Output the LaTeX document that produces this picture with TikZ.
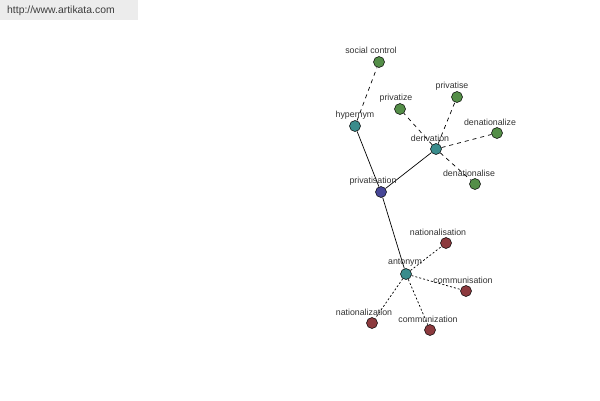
\documentclass[tikz,border=0pt]{standalone}
\usepackage{fontspec}
\setmainfont{Liberation Sans}
\definecolor{ngreen}{RGB}{84,142,72}
\definecolor{nteal}{RGB}{58,140,140}
\definecolor{nblue}{RGB}{70,70,150}
\definecolor{nred}{RGB}{140,58,62}
\definecolor{hdrbg}{RGB}{236,236,236}
\definecolor{hdrtx}{RGB}{60,60,60}
\definecolor{lbl}{RGB}{50,50,50}
\begin{document}
\begin{tikzpicture}[x=1pt,y=-1pt,
  dot/.style={circle,draw=black,line width=0.5pt,minimum size=11pt,inner sep=0pt},
  lab/.style={font=\fontsize{8.8}{10}\selectfont,text=lbl,inner sep=0pt},
  solidedge/.style={line width=0.7pt},
  dashedge/.style={line width=0.7pt,dash pattern=on 4pt off 4pt},
  dotedge/.style={line width=0.7pt,dash pattern=on 2pt off 2pt}]
\useasboundingbox (0,0) rectangle (600,400);
\fill[hdrbg] (0,0) rectangle (138,20);
\node[font=\fontsize{10.4}{12}\selectfont,text=hdrtx,anchor=west,inner sep=0pt] (url) at (7,10.5) {http://www.artikata.com};
% nodes
\node[dot,fill=ngreen] (sc) at (379,62) {};
\node[dot,fill=nteal] (hyp) at (355,126) {};
\node[dot,fill=ngreen] (pz) at (400,109) {};
\node[dot,fill=ngreen] (ps) at (457,97) {};
\node[dot,fill=nteal] (der) at (436,149) {};
\node[dot,fill=ngreen] (dz) at (497,133) {};
\node[dot,fill=ngreen] (ds) at (475,184) {};
\node[dot,fill=nblue] (pv) at (381,192) {};
\node[dot,fill=nred] (nls) at (446,243) {};
\node[dot,fill=nteal] (ant) at (406,274) {};
\node[dot,fill=nred] (cms) at (466,291) {};
\node[dot,fill=nred] (nlz) at (372,323) {};
\node[dot,fill=nred] (cmz) at (430,330) {};
% edges
\draw[solidedge] (hyp) -- (pv);
\draw[solidedge] (pv) -- (der);
\draw[solidedge] (pv) -- (ant);
\draw[dashedge] (hyp) -- (sc);
\draw[dashedge] (der) -- (pz);
\draw[dashedge] (der) -- (ps);
\draw[dashedge] (der) -- (dz);
\draw[dashedge] (der) -- (ds);
\draw[dotedge] (ant) -- (nls);
\draw[dotedge] (ant) -- (cms);
\draw[dotedge] (ant) -- (nlz);
\draw[dotedge] (ant) -- (cmz);
% labels
\node[lab] (lsc) at (371,50) {social control};
\node[lab] (lhyp) at (355,115) {hypernym};
\node[lab] (lpz) at (396,98) {privatize};
\node[lab] (lps) at (452,86) {privatise};
\node[lab] (lder) at (430,138) {derivation};
\node[lab] (ldz) at (490,122) {denationalize};
\node[lab] (lds) at (469,173) {denationalise};
\node[lab] (lpv) at (373,181) {privatisation};
\node[lab] (lnls) at (438,232) {nationalisation};
\node[lab] (lant) at (405,263) {antonym};
\node[lab] (lcms) at (463,280) {communisation};
\node[lab] (lnlz) at (364,312) {nationalization};
\node[lab] (lcmz) at (428,319) {communization};
\end{tikzpicture}
\end{document}
